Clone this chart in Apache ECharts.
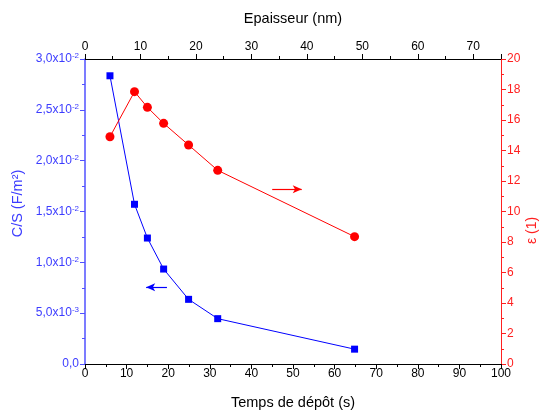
<!DOCTYPE html>
<html><head><meta charset="utf-8">
<script src="https://cdn.jsdelivr.net/npm/echarts@6/dist/echarts.min.js"></script>
<style>html,body{margin:0;padding:0;background:#fff;overflow:hidden}#c{width:542px;height:413px}</style>
</head><body><div id="c"></div>
<script>
const depositTime = [6.0, 11.9, 15.0, 18.9, 24.9, 31.9, 64.8];
const capacitance = [0.02835, 0.01571, 0.01239, 0.00934, 0.00636, 0.00446, 0.00146];
const epsilon = [14.9, 17.86, 16.83, 15.78, 14.36, 12.7, 8.35];
const blueArrow = [[19.7, 0.00754], [14.7, 0.00754]];
const redArrow = [[45.0, 11.46], [52.1, 11.46]];

const FONT = 'Liberation Sans, Arial, sans-serif';
const BLUE = '#0000ff', BLUE_AX = '#5050ff', RED = '#ff0000', RED_AX = '#ff2020';

function sciFmt(v) {
  if (v === 0) return '{m|0,0}';
  const s = v.toExponential(1).split('e');
  return '{m|' + s[0].replace('.', ',') + 'x10}{s|' + parseInt(s[1], 10) + '}';
}

const chart = echarts.init(document.getElementById('c'), null, {renderer: 'canvas'});
chart.setOption({
  animation: false,
  textStyle: {fontFamily: FONT},
  grid: {left: 85, right: 41, top: 59, bottom: 49, containLabel: false, outerBoundsMode: 'none'},
  xAxis: [
    {type: 'value', position: 'bottom', min: 0, max: 100, interval: 10,
     name: 'Temps de dépôt (s)', nameLocation: 'middle', nameGap: 31, nameMoveOverlap: false,
     nameTextStyle: {color: '#000', fontSize: 14.5, fontFamily: FONT},
     axisLine: {show: true, onZero: false, lineStyle: {color: '#000', width: 1}},
     axisTick: {show: true, inside: false, length: 5, lineStyle: {color: '#000'}},
     minorTick: {show: true, splitNumber: 2, length: 3, lineStyle: {color: '#000'}},
     axisLabel: {color: '#000', fontSize: 12, margin: 4, fontFamily: FONT},
     splitLine: {show: false}},
    {type: 'value', position: 'top', min: 0, max: 75, interval: 10,
     name: 'Epaisseur (nm)', nameLocation: 'middle', nameGap: 33, nameMoveOverlap: false,
     nameTextStyle: {color: '#000', fontSize: 14.5, fontFamily: FONT},
     axisLine: {show: true, onZero: false, lineStyle: {color: '#000', width: 1}},
     axisTick: {show: true, inside: false, length: 5, lineStyle: {color: '#000'}},
     minorTick: {show: true, splitNumber: 2, length: 3, lineStyle: {color: '#000'}},
     axisLabel: {color: '#000', fontSize: 12, margin: 6, showMaxLabel: false, fontFamily: FONT},
     splitLine: {show: false}}
  ],
  yAxis: [
    {type: 'value', position: 'left', min: 0, max: 0.03, interval: 0.005,
     name: 'C/S (F/m²)', nameLocation: 'middle', nameGap: 60, nameRotate: 90, nameMoveOverlap: false,
     nameTextStyle: {color: '#3c3cff', fontSize: 14.5, fontFamily: FONT, padding: [0, 0, 0, 16]},
     axisLine: {show: true, onZero: false, lineStyle: {color: BLUE_AX, width: 1.5}},
     axisTick: {show: true, inside: false, length: 5, lineStyle: {color: BLUE_AX}},
     minorTick: {show: true, splitNumber: 2, length: 3, lineStyle: {color: BLUE_AX}},
     axisLabel: {color: BLUE_AX, fontSize: 12, margin: 6, formatter: sciFmt,
       rich: {m: {fontSize: 12, color: '#3c3cff', fontFamily: FONT},
              s: {fontSize: 8, color: '#3c3cff', fontFamily: FONT, verticalAlign: 'top', padding: [0, 0, 6, 0]}}},
     splitLine: {show: false}},
    {type: 'value', position: 'right', min: 0, max: 20, interval: 2,
     name: 'ε (1)', nameLocation: 'middle', nameGap: 24, nameRotate: 90, nameMoveOverlap: false,
     nameTextStyle: {color: RED_AX, fontSize: 14, fontFamily: FONT, padding: [0, 38, 0, 0]},
     axisLine: {show: true, onZero: false, lineStyle: {color: RED_AX, width: 1}},
     axisTick: {show: true, inside: false, length: 5, lineStyle: {color: RED_AX}},
     minorTick: {show: true, splitNumber: 2, length: 3, lineStyle: {color: RED_AX}},
     axisLabel: {color: RED_AX, fontSize: 12, margin: 6, fontFamily: FONT},
     splitLine: {show: false}}
  ],
  series: [
    {type: 'line', xAxisIndex: 0, yAxisIndex: 0,
     data: depositTime.map((x, i) => [x, capacitance[i]]),
     symbol: 'rect', symbolSize: 7, showAllSymbol: true,
     lineStyle: {color: BLUE, width: 1}, itemStyle: {color: BLUE},
     markLine: {silent: true, symbol: ['none', 'arrow'], symbolSize: [6, 9],
       lineStyle: {color: BLUE, width: 1.2, type: 'solid'}, label: {show: false},
       data: [[{coord: blueArrow[0]}, {coord: blueArrow[1]}]]}},
    {type: 'line', xAxisIndex: 0, yAxisIndex: 1,
     data: depositTime.map((x, i) => [x, epsilon[i]]),
     symbol: 'circle', symbolSize: 9, showAllSymbol: true,
     lineStyle: {color: RED, width: 1}, itemStyle: {color: RED},
     markLine: {silent: true, symbol: ['none', 'arrow'], symbolSize: [6, 9],
       lineStyle: {color: RED, width: 1.2, type: 'solid'}, label: {show: false},
       data: [[{coord: redArrow[0]}, {coord: redArrow[1]}]]}}
  ]
});
</script></body></html>
